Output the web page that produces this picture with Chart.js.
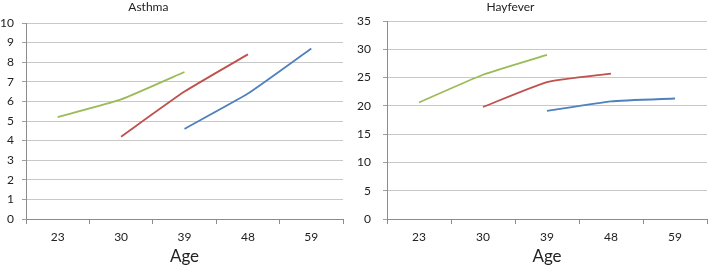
<!DOCTYPE html>
<html>
<head>
<meta charset="utf-8">
<script src="https://cdn.jsdelivr.net/npm/chart.js@4"></script>
<style>
    body { margin: 0; background: #fff; }
    .box { position: absolute; top: 0; height: 266px; }
    #left { left: 0; width: 355px; }
    #right { left: 355px; width: 354px; }
</style>
</head>
<body>
<div class="box" id="left"><canvas id="asthmaChart"></canvas></div>
<div class="box" id="right"><canvas id="hayfeverChart"></canvas></div>
<script>
const ages = ['23', '30', '39', '48', '59'];

// Asthma
const asthmaCohortA = [5.2, 6.1, 7.5, null, null];
const asthmaCohortB = [null, 4.2, 6.5, 8.4, null];
const asthmaCohortC = [null, null, 4.6, 6.4, 8.7];

// Hayfever
const hayCohortA = [20.6, 25.5, 29.0, null, null];
const hayCohortB = [null, 19.8, 24.2, 25.7, null];
const hayCohortC = [null, null, 19.1, 20.8, 21.3];

const seriesColors = ['#9BBB59', '#C0504D', '#4F81BD'];

// title drawn a bit left of centre, like the original
const offsetTitle = {
    id: 'offsetTitle',
    afterDraw(chart, args, opts) {
        const c = chart.ctx;
        const a = chart.chartArea;
        c.save();
        c.font = '12px Lato';
        c.fillStyle = '#222';
        c.textAlign = 'center';
        c.textBaseline = 'middle';
        c.fillText(opts.text, a.left + (a.right - a.left) * 0.386, 7);
        c.restore();
    }
};

function makeChart(id, title, data, maxY, step, cfg) {
    const datasets = data.map((d, i) => ({
        data: d,
        borderColor: seriesColors[i],
        backgroundColor: seriesColors[i],
        borderWidth: 1.8,
        pointRadius: 0,
        tension: 0.15
    }));
    return new Chart(document.getElementById(id), {
        type: 'line',
        data: { labels: ages, datasets: datasets },
        plugins: [offsetTitle],
        options: {
            responsive: true,
            maintainAspectRatio: false,
            animation: false,
            layout: { padding: { top: cfg.top, right: cfg.right, left: 0, bottom: 0 } },
            plugins: {
                legend: { display: false },
                tooltip: { enabled: false },
                offsetTitle: { text: title }
            },
            scales: {
                x: {
                    offset: true,
                    afterFit: s => { s.height = 266 - cfg.top - cfg.plotH; },
                    grid: {
                        offset: true,
                        drawOnChartArea: false,
                        tickLength: 5,
                        tickColor: '#8c8c8c'
                    },
                    border: { color: '#8c8c8c' },
                    ticks: { color: '#222', font: { family: 'Lato', size: 12 }, padding: 6 },
                    title: {
                        display: true,
                        text: 'Age',
                        color: '#222',
                        font: { family: 'Lato', size: 17, lineHeight: 1 },
                        padding: { top: 0, bottom: 1 }
                    }
                },
                y: {
                    min: 0,
                    max: maxY,
                    afterFit: s => { s.width = cfg.yWidth; },
                    ticks: { stepSize: step, color: '#222', font: { family: 'Lato', size: 12 }, padding: cfg.tickPad },
                    grid: { color: '#c8c8c8', tickLength: 4, tickColor: '#a0a0a0' },
                    border: { color: '#8c8c8c' }
                }
            }
        }
    });
}

makeChart('asthmaChart', 'Asthma', [asthmaCohortA, asthmaCohortB, asthmaCohortC], 10, 1,
    { top: 23, right: 12, plotH: 196, yWidth: 26, tickPad: 8 });
makeChart('hayfeverChart', 'Hayfever', [hayCohortA, hayCohortB, hayCohortC], 35, 5,
    { top: 21, right: 2, plotH: 198, yWidth: 32, tickPad: 12 });
</script>
</body>
</html>
